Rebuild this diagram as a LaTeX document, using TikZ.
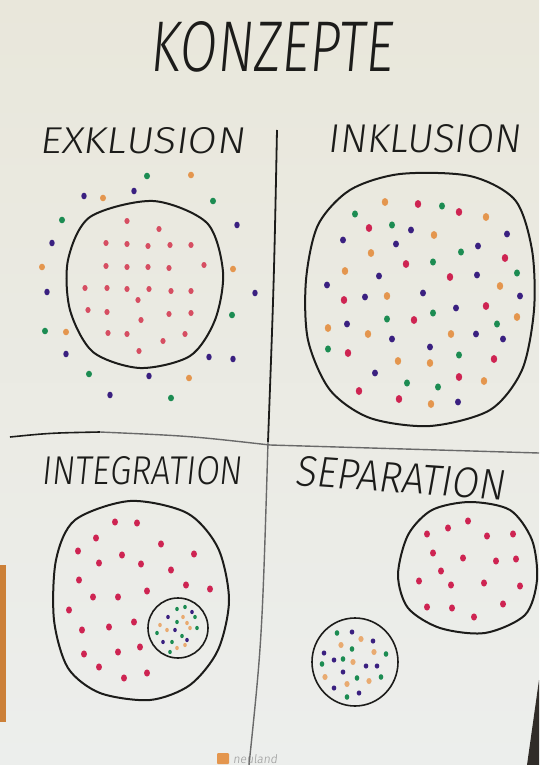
\documentclass[tikz,border=0pt]{standalone}
\usepackage{fontspec}
\setmainfont{Fira Sans Light}[FakeSlant=0.12]
\usepackage{graphicx}

\definecolor{paper}{RGB}{233,231,219}
\definecolor{paperlow}{RGB}{236,238,236}
\definecolor{ink}{RGB}{28,28,26}
\definecolor{pencil}{RGB}{105,105,105}
\definecolor{dotred}{RGB}{206,36,82}
\definecolor{dotpink}{RGB}{214,78,98}
\definecolor{dotorange}{RGB}{228,150,78}
\definecolor{dotgreen}{RGB}{28,140,82}
\definecolor{dotviolet}{RGB}{58,32,128}
\definecolor{edgeorange}{RGB}{204,128,56}
\definecolor{edgedark}{RGB}{48,44,40}
\definecolor{brandgray}{RGB}{150,150,150}

\newcommand\hand[3]{\resizebox{#1pt}{#2pt}{#3}}

\begin{document}
\begin{tikzpicture}[x=1pt, y=-1pt,
    ring/.style={draw=ink, line width=2pt},
    smallring/.style={draw=ink, line width=1.6pt},
    label/.style={inner sep=0pt, text=ink},
    brand/.style={inner sep=0pt, text=brandgray, font=\fontsize{12}{12}\selectfont}
  ]
  \useasboundingbox (0,0) rectangle (539,765);
  \clip (0,0) rectangle (539,765);
  \shade[top color=paper, bottom color=paperlow] (0,0) rectangle (539,765);
  \fill[edgeorange] (0,565) rectangle (6,722);
  \fill[edgedark] (539,680) -- (527,765) -- (539,765) -- cycle;

  % texts
  \node[label] (title) at (271,47) {\hand{243}{50}{KONZEPTE}};
  \node[label] (exkl) at (142,141) {\hand{205}{26}{EXKLUSION}};
  \node[label] (inkl) at (424,139) {\hand{192}{28}{INKLUSION}};
  \node[label] (integ) at (142,471) {\hand{200}{28}{INTEGRATION}};
  \node[label, rotate=-4] (sep) at (400,478) {\hand{210}{30}{SEPARATION}};

  % dividing lines
  \coordinate (vt) at (277,130);
  \coordinate (vc) at (268,442);
  \coordinate (vb) at (249,765);
  \coordinate (hl) at (10,437);
  \coordinate (hm) at (100,432);
  \coordinate (hc) at (270,445);
  \coordinate (hr) at (539,453);
  \draw[ink, line width=1.8pt] (vt) .. controls (274,280) .. (vc);
  \draw[pencil, line width=1.4pt] (vc) .. controls (262,640) .. (vb);
  \draw[ink, line width=1.6pt] (hl) .. controls (50,433) .. (hm);
  \draw[pencil, line width=1.4pt] (hm) .. controls (190,436) .. (hc) -- (hr);

  % circles
  \draw[ring] plot[smooth cycle] coordinates {(153,201) (207,223) (223,272) (215,320) (190,356) (140,368) (93,352) (70,310) (68,260) (90,217)};
  \draw[ring] plot[smooth cycle] coordinates {(400,174) (470,176) (515,200) (532,250) (534,310) (522,370) (490,410) (430,426) (370,418) (330,390) (308,340) (306,280) (318,225) (350,190)};
  \draw[ring] plot[smooth cycle] coordinates {(130,501) (187,513) (218,548) (229,600) (218,650) (190,685) (150,700) (100,693) (68,668) (54,620) (56,560) (75,520)};
  \draw[smallring] (178,628) ellipse (30 and 30);
  \draw[ring] plot[smooth cycle] coordinates {(470,502) (510,510) (532,540) (537,580) (525,615) (485,633) (440,628) (408,608) (398,575) (408,535) (432,510)};
  \draw[smallring] (355,662) ellipse (43 and 44);

  % exklusion
  \foreach \x/\y in {147/176,213/201,62/220,232/315,45/331,89/374,171/398}
    \fill[dotgreen] (\x,\y) ellipse (3 and 3.3);
  \foreach \x/\y in {191/175,103/198,42/267,233/269,66/332,189/378}
    \fill[dotorange] (\x,\y) ellipse (3 and 3.3);
  \foreach \x/\y in {84/196,134/191,237/225,52/243,47/292,255/293,66/354,209/357,233/359,149/376,110/395}
    \fill[dotviolet] (\x,\y) ellipse (2.7 and 3.3);
  \foreach \x/\y in {127/221,159/229,106/243,127/244,148/246,170/245,191/245,106/266,127/267,148/267,169/268,204/265,85/288,107/288,127/289,149/289,171/291,191/291,138/300,88/310,107/312,169/314,191/313,141/320,108/333,127/334,185/334,163/341,139/351}
    \fill[dotpink] (\x,\y) ellipse (2.6 and 3);

  % inklusion
  \foreach \x/\y in {385/202,486/217,434/235,371/253,345/271,500/286,387/296,517/317,328/328,368/334,451/334,398/361,430/363,484/381,431/404}
    \fill[dotorange] (\x,\y) ellipse (3.2 and 4);
  \foreach \x/\y in {418/204,459/212,369/228,505/258,406/264,450/277,344/300,486/306,414/320,348/353,494/359,459/377,359/391,399/399}
    \fill[dotred] (\x,\y) ellipse (3.2 and 4);
  \foreach \x/\y in {442/206,355/214,392/225,461/252,433/262,517/273,433/313,387/319,497/324,328/349,459/355,407/383,438/387}
    \fill[dotgreen] (\x,\y) ellipse (3 and 3.6);
  \foreach \x/\y in {411/230,507/234,343/240,396/244,478/246,379/276,477/275,327/285,423/293,365/297,520/296,456/308,347/324,476/334,503/339,392/339,430/347,375/373,458/402}
    \fill[dotviolet] (\x,\y) ellipse (3 and 3.4);

  % integration
  \foreach \x/\y in {115/522,137/523,96/538,161/544,194/554,78/551,122/555,99/563,141/564,171/570,79/580,186/585,210/589,147/591,93/597,118/597,69/610,134/622,109/627,82/630,140/647,118/652,84/654,99/667,124/678,147/673}
    \fill[dotred] (\x,\y) ellipse (3 and 3.6);
  \foreach \x/\y in {177/609,185/607,195/617,177/622,197/628,157/633,182/636,172/642,170/652}
    \fill[dotgreen] (\x,\y) ellipse (1.8 and 2.2);
  \foreach \x/\y in {192/612,168/617,175/630,187/640,163/642}
    \fill[dotviolet] (\x,\y) ellipse (1.8 and 2.2);
  \foreach \x/\y in {183/617,160/625,187/623,167/630,190/628,177/648,185/645}
    \fill[dotorange!80] (\x,\y) ellipse (1.8 and 2.2);

  % separation
  \foreach \x/\y in {468/521,448/528,427/534,487/536,513/534,433/553,463/558,496/561,516/559,441/571,419/581,451/585,484/583,520/586,427/607,452/608,503/604,474/617}
    \fill[dotred] (\x,\y) ellipse (3 and 3.6);
  \foreach \x/\y in {337/633,352/649,386/654,343/659,322/664,357/678,381/677,347/697}
    \fill[dotgreen] (\x,\y) ellipse (2.3 and 2.8);
  \foreach \x/\y in {352/632,373/641,324/653,334/660,366/666,377/666,343/672,334/688,359/693}
    \fill[dotviolet] (\x,\y) ellipse (2.3 and 2.6);
  \foreach \x/\y in {361/639,341/645,374/652,353/662,325/677,369/681,347/684}
    \fill[dotorange!80] (\x,\y) ellipse (2.6 and 3);

  % flipchart brand
  \fill[dotorange, rounded corners=1pt] (217,753) rectangle (229,764);
  \node[brand, anchor=base west] (maker) at (233,763) {neuland};
\end{tikzpicture}
\end{document}
